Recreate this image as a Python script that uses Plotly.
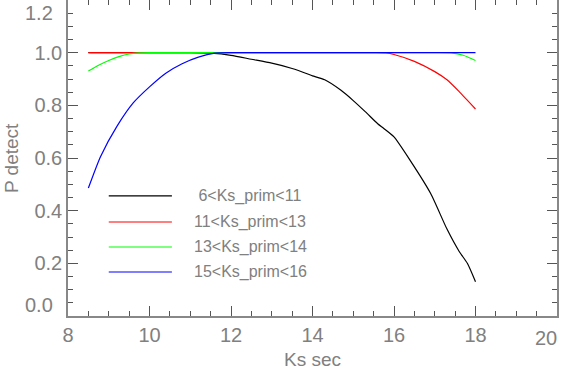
import plotly.graph_objects as go

# curves
x_6_11 = [8.5, 9.5, 10.5, 11.0, 11.5, 12.0, 12.5, 13.0, 13.5, 13.9, 14.0, 14.3, 14.7,
          15.0, 15.3, 15.6, 15.75, 16.0, 16.4, 16.9, 17.3, 17.6, 17.8, 18.0]
y_6_11 = [1.0, 1.0, 1.0, 1.0, 0.998, 0.99, 0.975, 0.96, 0.94, 0.918, 0.912, 0.897, 0.857,
          0.818, 0.775, 0.73, 0.712, 0.68, 0.59, 0.465, 0.33, 0.245, 0.2, 0.13]

x_11_13 = [8.5, 10, 12, 14, 15.5, 15.8, 16.0, 16.5, 17.0, 17.3, 17.6, 18.0]
y_11_13 = [1, 1, 1, 1, 1, 0.999, 0.993, 0.967, 0.928, 0.897, 0.852, 0.786]

x_13_14 = [8.5, 8.75, 9.0, 9.25, 9.5, 9.75, 10, 12, 14, 16, 17.0, 17.4, 17.7, 18.0]
y_13_14 = [0.93, 0.952, 0.97, 0.985, 0.995, 0.999, 1, 1, 1, 1, 1, 0.999, 0.99, 0.97]

x_15_16 = [8.5, 8.8, 9.2, 9.6, 10.0, 10.4, 10.8, 11.2, 11.6, 12, 14, 16, 18]
y_15_16 = [0.486, 0.606, 0.72, 0.809, 0.87, 0.922, 0.958, 0.983, 0.998, 1, 1, 1, 1]

labels = [' 6<Ks_prim<11', '11<Ks_prim<13', '13<Ks_prim<14', '15<Ks_prim<16']
colors = ['rgb(0,0,0)', 'rgb(255,0,0)', 'rgb(0,255,0)', 'rgb(0,0,255)']
xs = [x_6_11, x_11_13, x_13_14, x_15_16]
ys = [y_6_11, y_11_13, y_13_14, y_15_16]

grey = '#808080'
fnt = 'Liberation Sans Narrow, Liberation Sans, Arial, sans-serif'

fig = go.Figure()
for x, y, c, n in zip(xs, ys, colors, labels):
    fig.add_trace(go.Scatter(x=x, y=y, mode='lines', name=n,
                             line=dict(color=c, width=1.2, shape='spline', smoothing=0.6)))

# hand-drawn legend like the IDL one
leg_y = [0.456, 0.357, 0.262, 0.167]
for yy, c, n in zip(leg_y, colors, labels):
    fig.add_shape(type='line', x0=9.0, x1=10.55, y0=yy, y1=yy,
                  xref='x', yref='y', line=dict(color=c, width=1.2))
    fig.add_annotation(x=11.05, y=yy, xref='x', yref='y', text=n, showarrow=False,
                       xanchor='left', yanchor='middle',
                       font=dict(family='Liberation Sans, Arial', size=16, color=grey))

# end labels placed inside the figure
fig.add_annotation(x=0, y=1.2, xref='paper', yref='y', text='1.2', showarrow=False,
                   xanchor='right', yanchor='top', xshift=-13, yshift=0,
                   font=dict(family=fnt, size=20, color=grey))
fig.add_annotation(x=0, y=0.0, xref='paper', yref='y', text='0.0', showarrow=False,
                   xanchor='right', yanchor='bottom', xshift=-13, yshift=-2,
                   font=dict(family=fnt, size=20, color=grey))
fig.add_annotation(x=20, y=0, xref='x', yref='paper', text='20', showarrow=False,
                   xanchor='right', yanchor='top', xshift=2, yshift=-9,
                   font=dict(family=fnt, size=20, color=grey))

# axis titles
fig.add_annotation(x=0.5, y=0, xref='paper', yref='paper', text='Ks sec', showarrow=False,
                   xanchor='center', yanchor='top', yshift=-31,
                   font=dict(family='Liberation Sans, Arial', size=19, color=grey))
fig.add_annotation(x=0, y=0.5, xref='paper', yref='paper', text='P detect', showarrow=False,
                   xanchor='center', yanchor='middle', xshift=-57, textangle=-90,
                   font=dict(family='Liberation Sans, Arial', size=19, color=grey))

fig.update_layout(
    width=568, height=369,
    margin=dict(l=68, r=11, t=0, b=53),
    plot_bgcolor='white', paper_bgcolor='white',
    showlegend=False,
    font=dict(family=fnt, size=20, color=grey),
)
fig.update_xaxes(
    range=[8, 20], tickmode='linear', tick0=8, dtick=2, labelalias={'20': ''},
    ticks='inside', ticklen=10, tickcolor='#555', tickwidth=1,
    showline=True, linecolor='#888', linewidth=1.5, mirror='ticks',
    showgrid=False, zeroline=False, automargin=False,
    minor=dict(dtick=0.5, ticks='inside', ticklen=5, tickcolor='#555', showgrid=False),
)
fig.update_yaxes(
    range=[0, 1.2], tickmode='linear', tick0=0, dtick=0.2, tickformat='.1f',
    labelalias={'1.2': '', '0.0': ''},
    ticks='inside', ticklen=10, tickcolor='#555', tickwidth=1,
    showline=True, linecolor='#888', linewidth=1.5, mirror='ticks',
    showgrid=False, zeroline=False, automargin=False,
    minor=dict(dtick=0.05, ticks='inside', ticklen=5, tickcolor='#555', showgrid=False),
)
fig.write_html("out.html", config={'displayModeBar': False},
               post_script="document.body.style.margin='0px';")
